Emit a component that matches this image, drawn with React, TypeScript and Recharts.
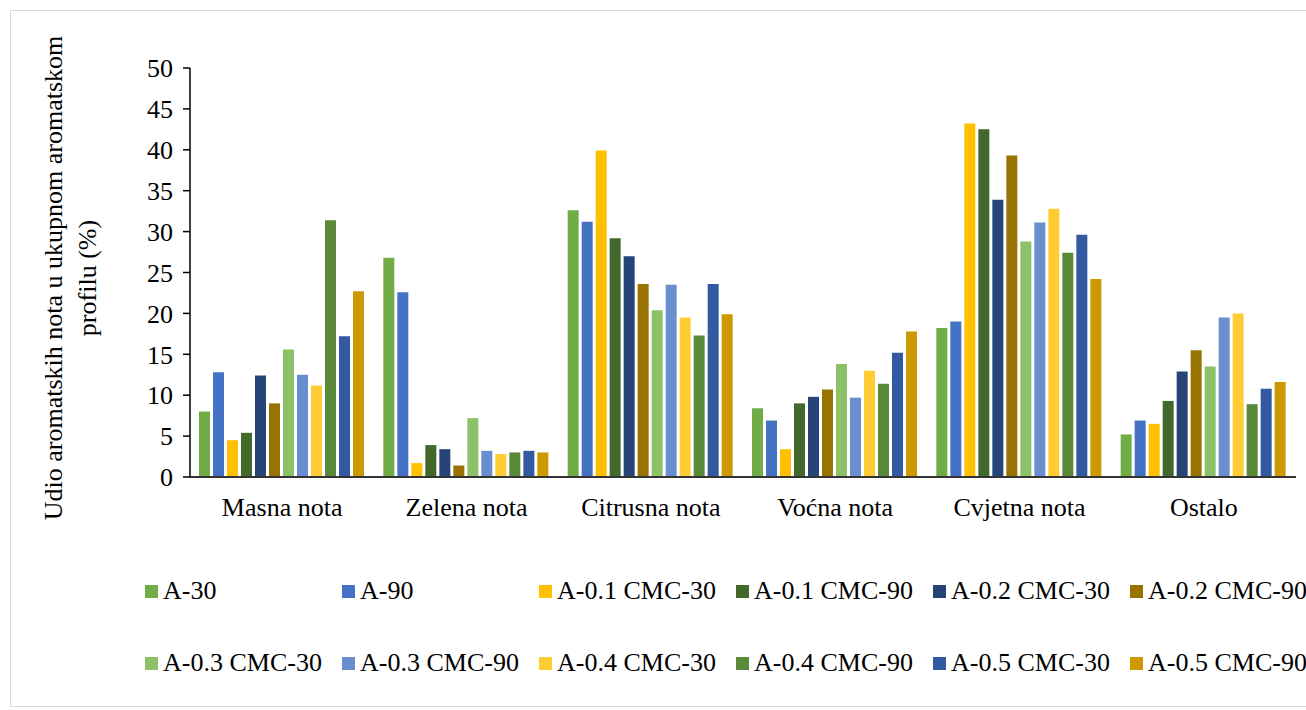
import { BarChart, Bar, XAxis, YAxis } from 'recharts'

const CATEGORIES = ['Masna nota', 'Zelena nota', 'Citrusna nota', 'Voćna nota', 'Cvjetna nota', 'Ostalo']

const A_30 = [8.0, 26.8, 32.6, 8.4, 18.2, 5.2]
const A_90 = [12.8, 22.6, 31.2, 6.9, 19.0, 6.9]
const A_01_CMC_30 = [4.5, 1.7, 39.9, 3.4, 43.2, 6.5]
const A_01_CMC_90 = [5.4, 3.9, 29.2, 9.0, 42.5, 9.3]
const A_02_CMC_30 = [12.4, 3.4, 27.0, 9.8, 33.9, 12.9]
const A_02_CMC_90 = [9.0, 1.4, 23.6, 10.7, 39.3, 15.5]
const A_03_CMC_30 = [15.6, 7.2, 20.4, 13.8, 28.8, 13.5]
const A_03_CMC_90 = [12.5, 3.2, 23.5, 9.7, 31.1, 19.5]
const A_04_CMC_30 = [11.2, 2.8, 19.5, 13.0, 32.8, 20.0]
const A_04_CMC_90 = [31.4, 3.0, 17.3, 11.4, 27.4, 8.9]
const A_05_CMC_30 = [17.2, 3.2, 23.6, 15.2, 29.6, 10.8]
const A_05_CMC_90 = [22.7, 3.0, 19.9, 17.8, 24.2, 11.6]

const Y_TICKS = [0, 5, 10, 15, 20, 25, 30, 35, 40, 45, 50]

const SERIES = [
  { key: 's0', label: 'A-30', values: A_30, color: '#70AD47' },
  { key: 's1', label: 'A-90', values: A_90, color: '#4472C4' },
  { key: 's2', label: 'A-0.1 CMC-30', values: A_01_CMC_30, color: '#FFC000' },
  { key: 's3', label: 'A-0.1 CMC-90', values: A_01_CMC_90, color: '#43682B' },
  { key: 's4', label: 'A-0.2 CMC-30', values: A_02_CMC_30, color: '#264478' },
  { key: 's5', label: 'A-0.2 CMC-90', values: A_02_CMC_90, color: '#997300' },
  { key: 's6', label: 'A-0.3 CMC-30', values: A_03_CMC_30, color: '#8CC168' },
  { key: 's7', label: 'A-0.3 CMC-90', values: A_03_CMC_90, color: '#698ED0' },
  { key: 's8', label: 'A-0.4 CMC-30', values: A_04_CMC_30, color: '#FFCD33' },
  { key: 's9', label: 'A-0.4 CMC-90', values: A_04_CMC_90, color: '#5A8A39' },
  { key: 's10', label: 'A-0.5 CMC-30', values: A_05_CMC_30, color: '#335AA1' },
  { key: 's11', label: 'A-0.5 CMC-90', values: A_05_CMC_90, color: '#CC9A00' },
]

const FONT = '"Liberation Serif", "Times New Roman", serif'

const data = CATEGORIES.map((name, i) => ({
  name,
  ...Object.fromEntries(SERIES.map(s => [s.key, s.values[i]])),
}))

// two-line rotated axis title, placed in page coords (chart sits at 0,0)
const YTitle = () => (
  <g fontFamily={FONT} fontSize={26} fill="#000">
    <text x={53} y={278} transform="rotate(-90 53 278)" textAnchor="middle" dominantBaseline="central">
      Udio aromatskih nota u ukupnom aromatskom
    </text>
    <text x={87} y={278} transform="rotate(-90 87 278)" textAnchor="middle" dominantBaseline="central">
      profilu (%)
    </text>
  </g>
)

export default function App() {
  return (
    <div style={{ position: 'fixed', left: 0, top: 0, width: 1306, height: 710, overflow: 'hidden', background: '#fff' }}>
      <div style={{
        position: 'absolute', left: 10, top: 10, width: 1400, height: 697,
        border: '1px solid #d9d9d9', boxSizing: 'border-box',
      }} />
      <div style={{ position: 'absolute', left: 0, top: 0 }}>
        <BarChart
          width={1306}
          height={540}
          data={data}
          margin={{ top: 68, right: 10, left: 120, bottom: 13 }}
          barCategoryGap={9}
          barGap={3}
        >
          <XAxis
            dataKey="name"
            height={50}
            tickSize={0}
            tickMargin={21}
            tickLine={false}
            axisLine={{ stroke: '#333', strokeWidth: 2 }}
            tick={{ fill: '#000', fontSize: 26, fontFamily: FONT }}
            interval={0}
          />
          <YAxis
            width={70}
            domain={[0, 50]}
            ticks={Y_TICKS}
            interval={0}
            tickSize={7}
            tickMargin={10}
            axisLine={{ stroke: '#000', strokeWidth: 1.5 }}
            tickLine={{ stroke: '#000', strokeWidth: 1.5 }}
            tick={{ fill: '#000', fontSize: 26, fontFamily: FONT }}
            label={{ content: () => <YTitle /> }}
          />
          {SERIES.map(s => (
            <Bar key={s.key} dataKey={s.key} name={s.label} fill={s.color} isAnimationActive={false} />
          ))}
        </BarChart>
      </div>
      {SERIES.map((s, i) => {
        const col = i % 6
        const rowY = i < 6 ? 591 : 663
        const x = 145 + 197 * col
        return (
          <div key={s.key} style={{ position: 'absolute', left: x, top: rowY - 13, height: 26, display: 'flex', alignItems: 'center', whiteSpace: 'nowrap' }}>
            <span style={{ width: 13, height: 13, background: s.color, display: 'inline-block' }} />
            <span style={{ marginLeft: 5, fontFamily: FONT, fontSize: 26, lineHeight: '26px', color: '#000' }}>{s.label}</span>
          </div>
        )
      })}
    </div>
  )
}
